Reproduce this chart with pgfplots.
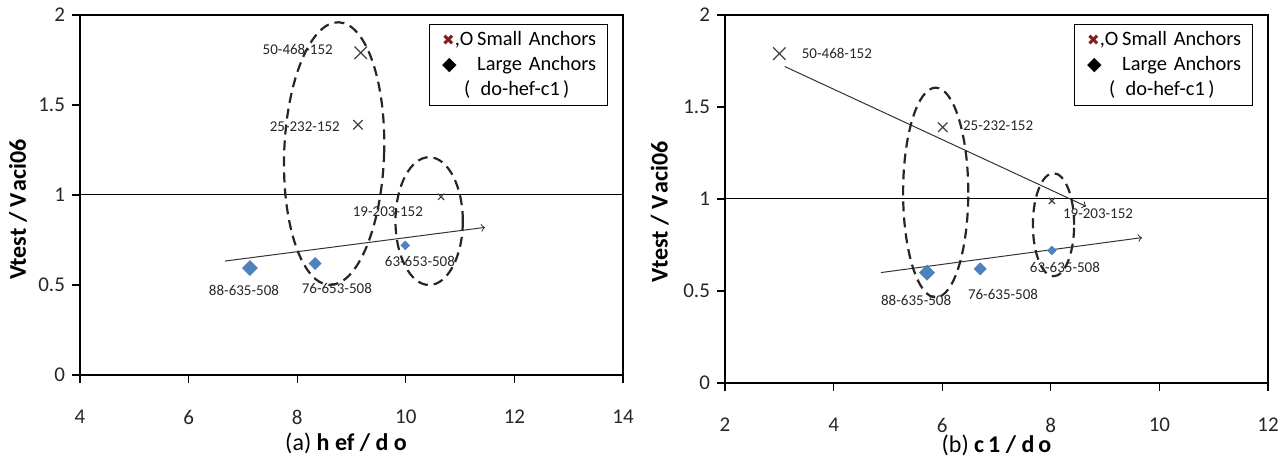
\documentclass[border=0pt]{standalone}
\usepackage{fontspec}
\setmainfont{Carlito}
\newfontfamily\sym{DejaVu Sans}
\usepackage{pgfplots}
\pgfplotsset{compat=1.18}
\definecolor{ablue}{HTML}{4F81BD}
\definecolor{xgray}{HTML}{404040}
\definecolor{darkred}{HTML}{7F1F1F}
\tikzset{
  ell/.style={dash pattern=on 5pt off 3pt, line width=1.1pt, black!85},
  lab/.style={font=\fontsize{7.5}{9}\selectfont, text=black!85},
}
\pgfplotsset{
  base/.style={
    scale only axis, width=271.5pt,
    ymin=0, ymax=2, ytick={0,0.5,1,1.5,2},
    tick align=outside, major tick length=4pt,
    xtick pos=bottom, ytick pos=left,
    axis line style={line width=1.1pt},
    tick style={black, line width=0.6pt},
    /pgf/number format/assume math mode=true,
    tick label style={font=\fontsize{10.5}{12}\selectfont, text=black!85},
    xticklabel style={yshift=-10pt},
    clip=false,
  },
  xm/.style={mark=x, color=xgray, mark size=#1, only marks, mark options={line width=0.6pt}},
  dm/.style={mark=square*, color=ablue, mark size=#1, only marks, mark options={rotate=45}},
}
\newcommand{\legbox}{%
  \node[draw, line width=0.6pt, anchor=north east, inner xsep=6.5pt, inner ysep=3.5pt, text width=76pt, align=left, font=\fontsize{10.2}{12.5}\selectfont]
  at (rel axis cs:0.972,0.975) {%
  \mbox{\makebox[17.5pt][l]{{\sym\color{darkred}\fontsize{7.5}{9}\selectfont ✖},O}Small Anchors}\\
  \mbox{\makebox[17.5pt][l]{{\sym\fontsize{9.5}{10}\selectfont ◆}}Large Anchors}\\
  \mbox{\hspace{11pt}(\, do-hef-c1\,)}};}
\begin{document}
\begin{tikzpicture}
\useasboundingbox (0,0) rectangle (643.5pt,229.5pt);
% ---------------- (a)
\begin{axis}[base, at={(40pt,42pt)}, anchor=south west, height=180pt,
  xmin=4, xmax=14, xtick={4,6,...,14},
  xlabel={(a) \textbf{h ef / d o}},
  xlabel style={at={(axis description cs:0.49,-0.19)}, anchor=center, font=\fontsize{12}{14}\selectfont},
  ylabel={\textbf{Vtest / V\hspace{1pt}aci06}},
  ylabel style={at={(axis description cs:-0.114,0.46)}, anchor=center, font=\fontsize{12}{14}\selectfont},
]
\addplot[black, line width=0.5pt] coordinates {(4,1) (14,1)};
\addplot[xm=4.4pt] coordinates {(9.17,1.79)};
\addplot[xm=3.3pt] coordinates {(9.12,1.39)};
\addplot[xm=2.2pt] coordinates {(10.65,0.99)};
\addplot[dm=2.6pt] coordinates {(7.13,0.594)};
\addplot[dm=2.1pt] coordinates {(8.33,0.62)};
\addplot[dm=1.5pt] coordinates {(9.99,0.72)};
\addplot[->, black!80, line width=0.5pt] coordinates {(6.67,0.633) (11.46,0.82)};
\draw[ell, rotate around={-2:(axis cs:8.68,1.23)}] (axis cs:8.68,1.23) ellipse [x radius=0.92, y radius=0.73];
\draw[ell] (axis cs:10.43,0.855) ellipse [x radius=0.62, y radius=0.355];
\node[lab] at (axis cs:8.01,1.81) {50-468-152};
\node[lab] at (axis cs:8.14,1.38) {25-232-152};
\node[lab] at (axis cs:9.67,0.905) {19-203-152};
\node[lab] at (axis cs:10.26,0.63) {63-653-508};
\node[lab] at (axis cs:8.73,0.48) {76-653-508};
\node[lab] at (axis cs:7.02,0.47) {88-635-508};
\legbox
\end{axis}
% ---------------- (b)
\begin{axis}[base, at={(362.5pt,38pt)}, anchor=south west, height=184pt,
  xmin=2, xmax=12, xtick={2,4,...,12},
  xlabel={(b) \textbf{c\,1 / d\,o}},
  xlabel style={at={(axis description cs:0.5,-0.17)}, anchor=center, font=\fontsize{12}{14}\selectfont},
  ylabel={\textbf{Vtest / V\hspace{1pt}aci06}},
  ylabel style={at={(axis description cs:-0.12,0.465)}, anchor=center, font=\fontsize{12}{14}\selectfont},
]
\addplot[black, line width=0.5pt] coordinates {(2,1) (12,1)};
\addplot[xm=4.4pt] coordinates {(3.0,1.79)};
\addplot[xm=3.3pt] coordinates {(6.01,1.39)};
\addplot[xm=2.2pt] coordinates {(8.02,0.99)};
\addplot[dm=2.6pt] coordinates {(5.72,0.60)};
\addplot[dm=2.1pt] coordinates {(6.70,0.62)};
\addplot[dm=1.5pt] coordinates {(8.02,0.72)};
\addplot[->, black!80, line width=0.5pt] coordinates {(3.1,1.72) (8.65,0.96)};
\addplot[->, black!80, line width=0.5pt] coordinates {(4.87,0.60) (9.68,0.79)};
\draw[ell] (axis cs:5.88,1.035) ellipse [x radius=0.6, y radius=0.57];
\draw[ell] (axis cs:8.05,0.86) ellipse [x radius=0.38, y radius=0.28];
\node[lab] at (axis cs:4.06,1.79) {50-468-152};
\node[lab] at (axis cs:7.03,1.40) {25-232-152};
\node[lab] at (axis cs:8.87,0.92) {19-203-152};
\node[lab] at (axis cs:8.26,0.63) {63-635-508};
\node[lab] at (axis cs:7.12,0.48) {76-635-508};
\node[lab] at (axis cs:5.52,0.45) {88-635-508};
\legbox
\end{axis}
\end{tikzpicture}
\end{document}
